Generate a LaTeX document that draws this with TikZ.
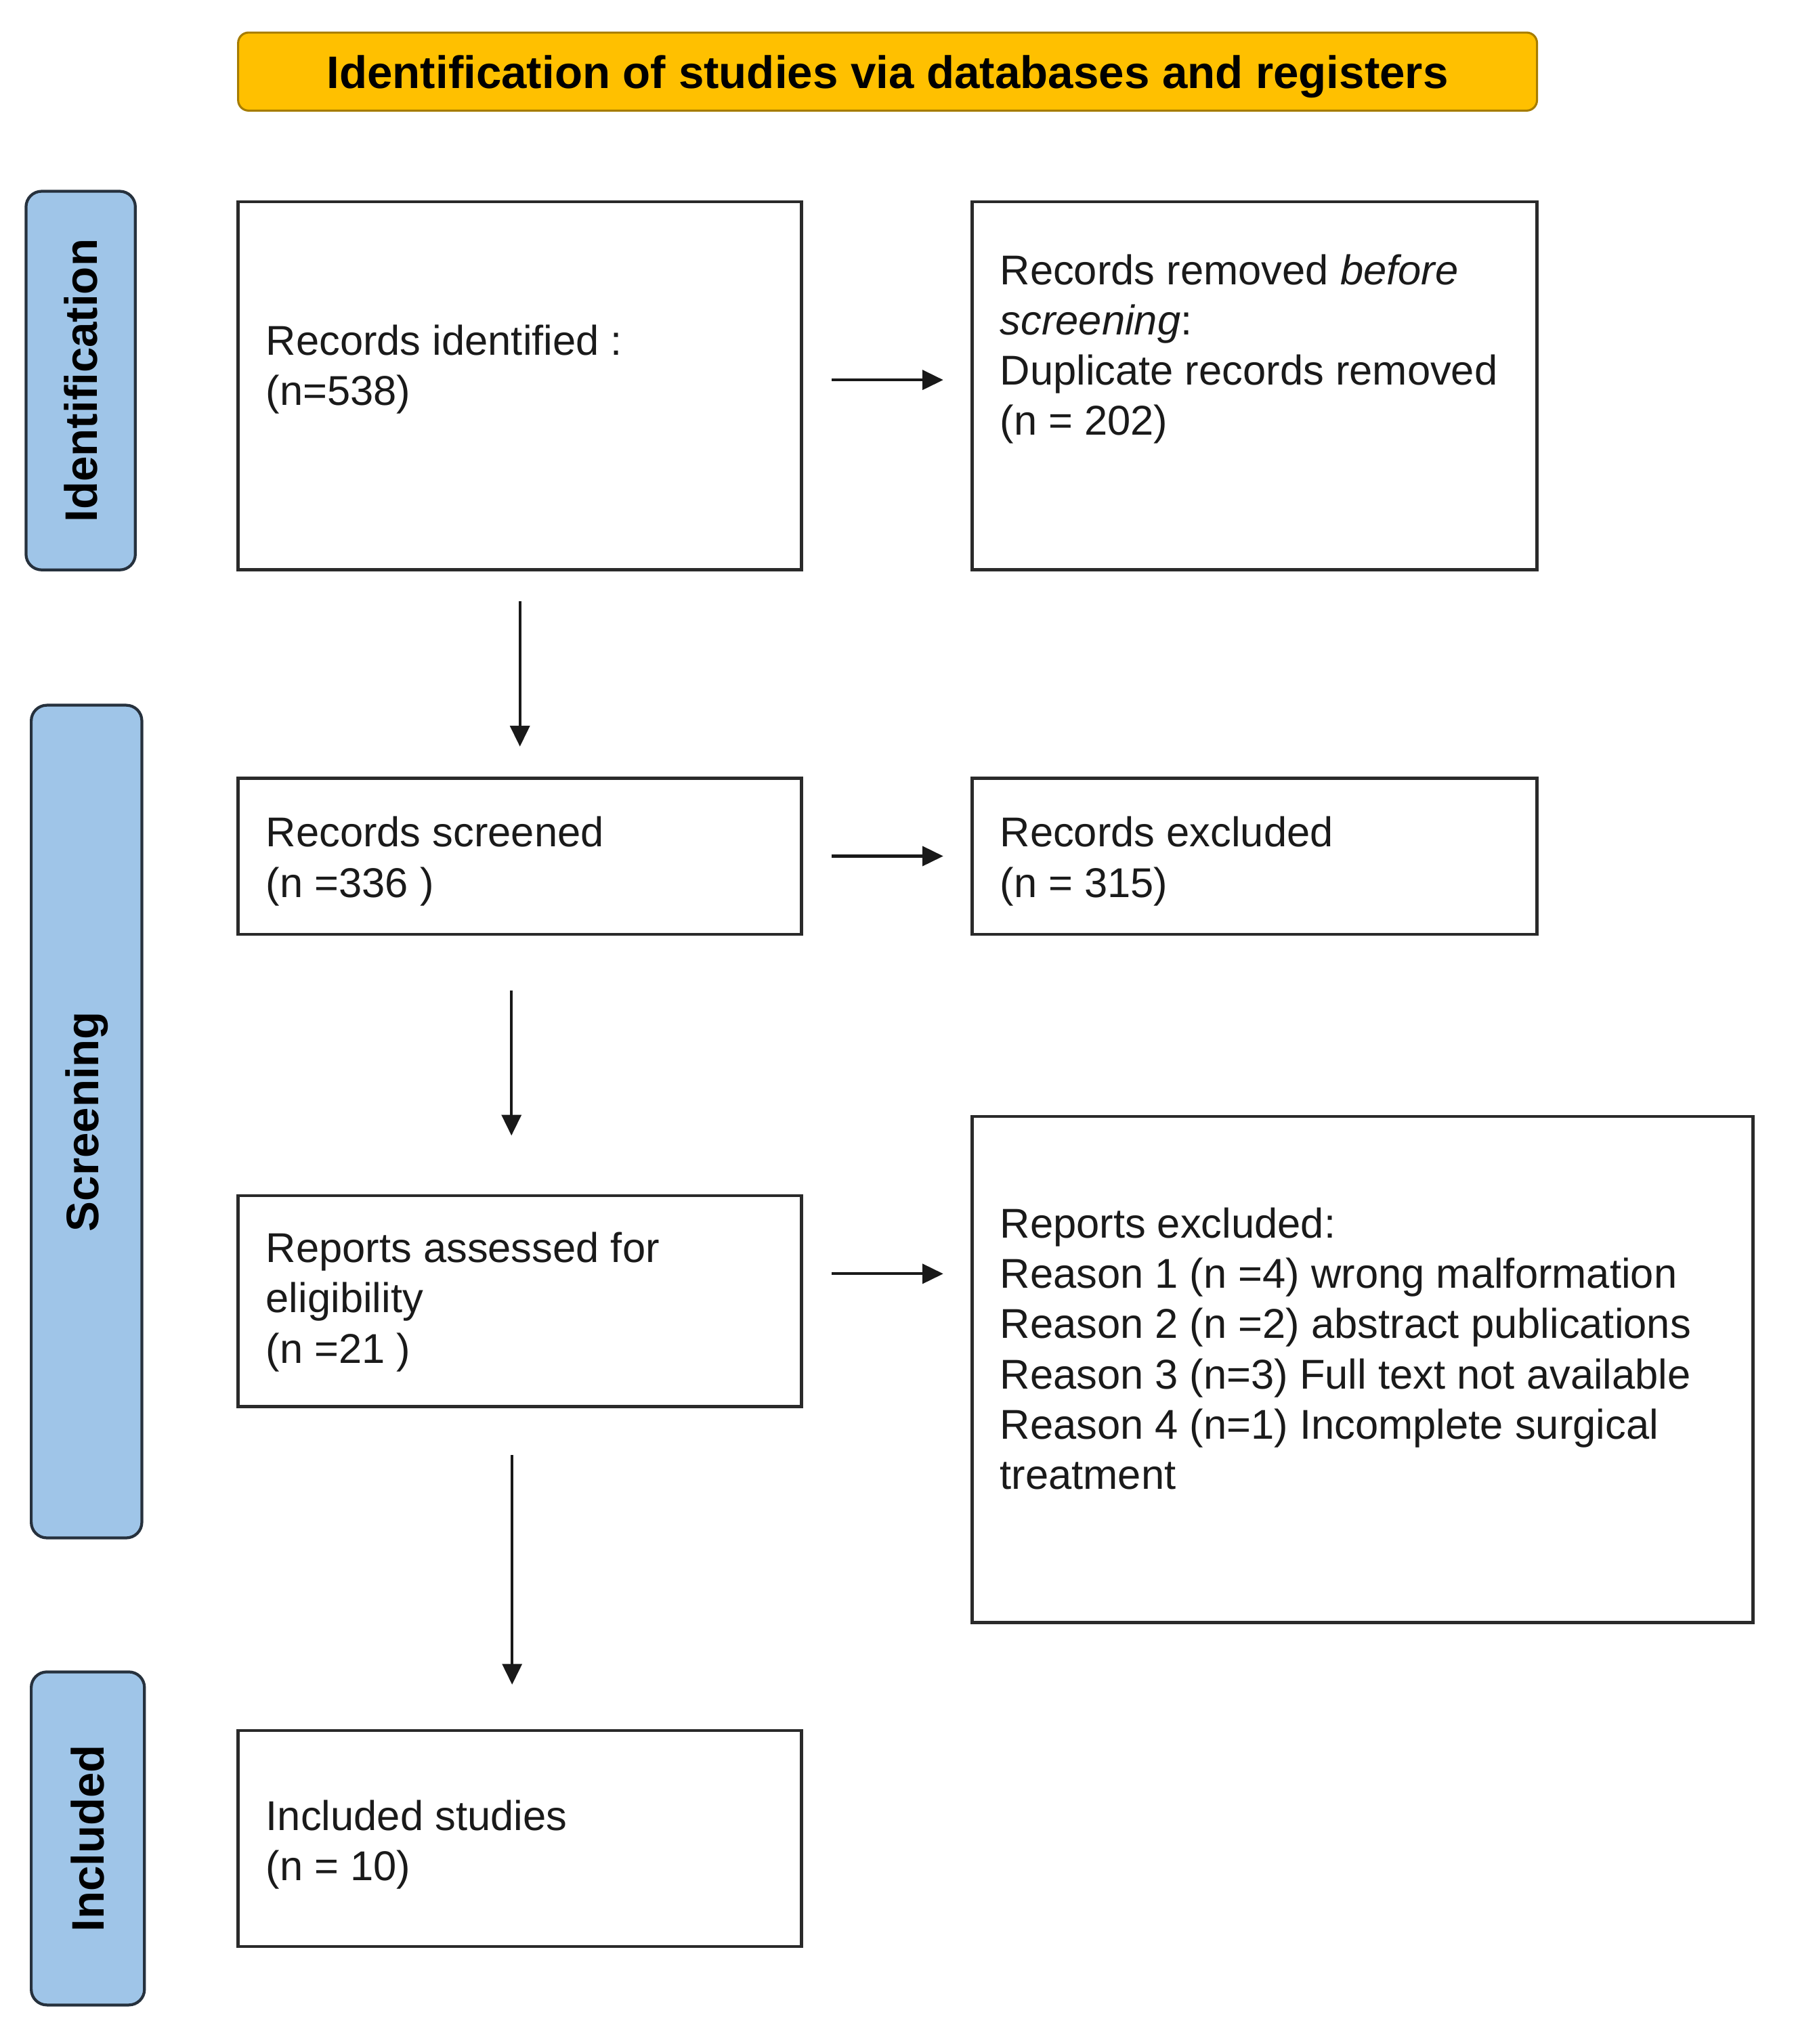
\documentclass[tikz,border=0pt]{standalone}
\usepackage{fontspec}
\setmainfont{Liberation Sans}
\usetikzlibrary{arrows.meta}
\definecolor{titlefill}{HTML}{FFC000}
\definecolor{titledraw}{HTML}{A67C00}
\definecolor{sidefill}{HTML}{9FC5E8}
\definecolor{sidedraw}{HTML}{26313D}
\definecolor{boxdraw}{HTML}{2A2A2A}
\definecolor{txtc}{HTML}{1A1A1A}
\begin{document}
\begin{tikzpicture}[x=0.5pt,y=-0.5pt,
  box/.style={draw=boxdraw, line width=1.2pt, fill=white, inner sep=0pt},
  txt/.style={anchor=base west, align=left, inner sep=0pt, text=txtc,
    font=\fontsize{16}{19.3}\selectfont},
  side/.style={draw=sidedraw, fill=sidefill, line width=1.1pt, rounded corners=6pt, inner sep=0pt},
  sidetxt/.style={rotate=90, inner sep=0pt, text=black, font=\fontsize{17.5}{21}\selectfont\bfseries},
  arr/.style={line width=1.1pt, draw=black!90, -{Triangle[length=8pt,width=7.5pt]}}]
\useasboundingbox (0,0) rectangle (1380,1571);

% title
\node[draw=titledraw, fill=titlefill, line width=0.8pt, rounded corners=4pt,
  minimum width=499pt, minimum height=30pt, inner sep=0pt, text depth=0pt,
  font=\fontsize{17.5}{21}\selectfont\bfseries] (title) at (682,55)
  {Identification of studies via databases and registers};

% side bars
\node[side, minimum width=42pt, minimum height=145.5pt] (s1) at (62,292.5) {};
\node[sidetxt] (s1t) at (s1.center) {Identification};
\node[side, minimum width=42.5pt, minimum height=320pt] (s2) at (66.5,862) {};
\node[sidetxt] (s2t) at (s2.center) {Screening};
\node[side, minimum width=43.5pt, minimum height=128pt] (s3) at (67.5,1413) {};
\node[sidetxt] (s3t) at (s3.center) {Included};

% boxes
\node[box, minimum width=216.5pt, minimum height=141.5pt] (b1) at (399.5,296.5) {};
\node[box, minimum width=217pt, minimum height=141.5pt] (b2) at (964,296.5) {};
\node[box, minimum width=216.5pt, minimum height=60pt] (b3) at (399.5,658) {};
\node[box, minimum width=217pt, minimum height=60pt] (b4) at (964,658) {};
\node[box, minimum width=216.5pt, minimum height=81pt] (b5) at (399.5,1000) {};
\node[box, minimum width=300pt, minimum height=194.5pt] (b6) at (1047,1052.5) {};
\node[box, minimum width=216.5pt, minimum height=83pt] (b7) at (399.5,1413) {};

% texts (base = baseline of the last line)
\node[txt] (t1) at (204,311.5) {Records identified :\\(n=538)};
\node[txt] (t2) at (768,334.5) {Records removed \textit{before}\\\textit{screening}:\\Duplicate records removed\\(n = 202)};
\node[txt] (t3) at (204,689.5) {Records screened\\(n =336 )};
\node[txt] (t4) at (768,689.5) {Records excluded\\(n = 315)};
\node[txt] (t5) at (204,1047.5) {Reports assessed for\\eligibility\\(n =21 )};
\node[txt] (t6) at (768,1144.5) {Reports excluded:\\Reason 1 (n =4) wrong malformation\\Reason 2 (n =2) abstract publications\\Reason 3 (n=3) Full text not available\\Reason 4 (n=1) Incomplete surgical\\treatment};
\node[txt] (t7) at (204,1445.5) {Included studies\\(n = 10)};

% connectors
\coordinate (a1) at ([yshift=2.25pt]b1.east);
\draw[arr, shorten <=11pt, shorten >=10.5pt] (a1) -- (a1 -| b2.west);
\draw[arr, shorten <=11pt, shorten >=10.5pt] (b3.east) -- (b4.west);
\coordinate (a5) at ([yshift=10.5pt]b5.east);
\draw[arr, shorten <=11pt, shorten >=10.5pt] (a5) -- (a5 -| b6.west);

\draw[arr, shorten <=11.5pt, shorten >=11.5pt] (b1.south) -- (b3.north);
\draw[arr, shorten <=21pt, shorten >=22.5pt] ([xshift=-3.25pt]b3.south) -- ([xshift=-3.25pt]b5.north);
\draw[arr, shorten <=18pt, shorten >=17pt] ([xshift=-3pt]b5.south) -- ([xshift=-3pt]b7.north);
\end{tikzpicture}
\end{document}
